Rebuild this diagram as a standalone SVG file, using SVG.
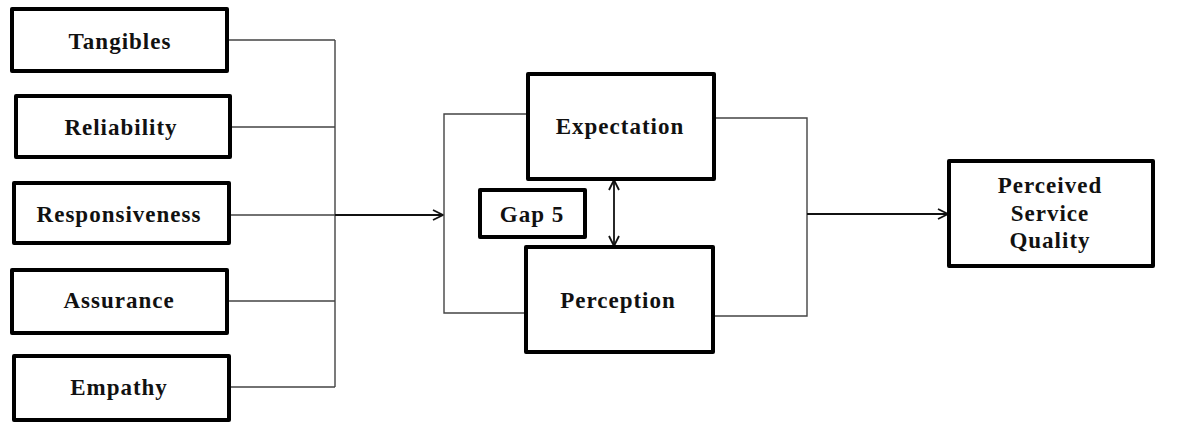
<svg xmlns="http://www.w3.org/2000/svg" width="1186" height="432" viewBox="0 0 1186 432">
  <style>
    .box { fill: #fff; stroke: #000; stroke-width: 4; stroke-linejoin: round; }
    .lbl { font-family: "Liberation Serif", "Times New Roman", serif; font-weight: bold; font-size: 23px; letter-spacing: 1px; text-anchor: middle; fill: #111; }
    .wire { fill: none; stroke: #444; stroke-width: 1.4; }
    .arrow { fill: none; stroke: #111; stroke-width: 1.8; }
  </style>
  <defs>
    <marker id="chev" viewBox="0 0 12 12" refX="11" refY="6" markerWidth="12" markerHeight="12" markerUnits="userSpaceOnUse" orient="auto-start-reverse">
      <path d="M1,1 L11,6 L1,11" fill="none" stroke="#111" stroke-width="1.8"/>
    </marker>
  </defs>

  <rect width="1186" height="432" fill="#fff"/>

  <g id="connectors">
    <!-- dimensions bus -->
    <path class="wire" d="M227,40 H335 M230,127 H335 M229,215 H335 M227,301 H335 M229,387 H335 M335,40 V387"/>
    <path class="arrow" d="M335,215 H443" marker-end="url(#chev)"/>
    <!-- left bracket into expectation / perception -->
    <path class="wire" d="M527,114 H444 V313 H525"/>
    <!-- right bracket out of expectation / perception -->
    <path class="wire" d="M714,118 H807 V316 H713"/>
    <path class="arrow" d="M807,214 H948" marker-end="url(#chev)"/>
    <!-- gap between expectation and perception -->
    <path class="arrow" d="M614,180 V246" marker-start="url(#chev)" marker-end="url(#chev)"/>
  </g>

  <g id="tangibles">
    <rect class="box" x="12" y="9" width="215" height="62"/>
    <text class="lbl" x="120" y="49">Tangibles</text>
  </g>
  <g id="reliability">
    <rect class="box" x="16" y="96" width="214" height="61"/>
    <text class="lbl" x="121" y="135">Reliability</text>
  </g>
  <g id="responsiveness">
    <rect class="box" x="14" y="183" width="215" height="60"/>
    <text class="lbl" x="119" y="222">Responsiveness</text>
  </g>
  <g id="assurance">
    <rect class="box" x="12" y="270" width="215" height="63"/>
    <text class="lbl" x="119" y="308">Assurance</text>
  </g>
  <g id="empathy">
    <rect class="box" x="14" y="356" width="215" height="64"/>
    <text class="lbl" x="119" y="395">Empathy</text>
  </g>

  <g id="expectation">
    <rect class="box" x="528" y="74" width="186" height="105"/>
    <text class="lbl" x="620" y="134">Expectation</text>
  </g>
  <g id="gap5">
    <rect class="box" x="480" y="190" width="105" height="47"/>
    <text class="lbl" x="532" y="222">Gap 5</text>
  </g>
  <g id="perception">
    <rect class="box" x="526" y="247" width="187" height="105"/>
    <text class="lbl" x="618" y="308">Perception</text>
  </g>

  <g id="perceived-service-quality">
    <rect class="box" x="949" y="161" width="204" height="105"/>
    <text class="lbl" x="1050" y="193">Perceived</text>
    <text class="lbl" x="1050" y="221">Service</text>
    <text class="lbl" x="1050" y="248">Quality</text>
  </g>
</svg>
